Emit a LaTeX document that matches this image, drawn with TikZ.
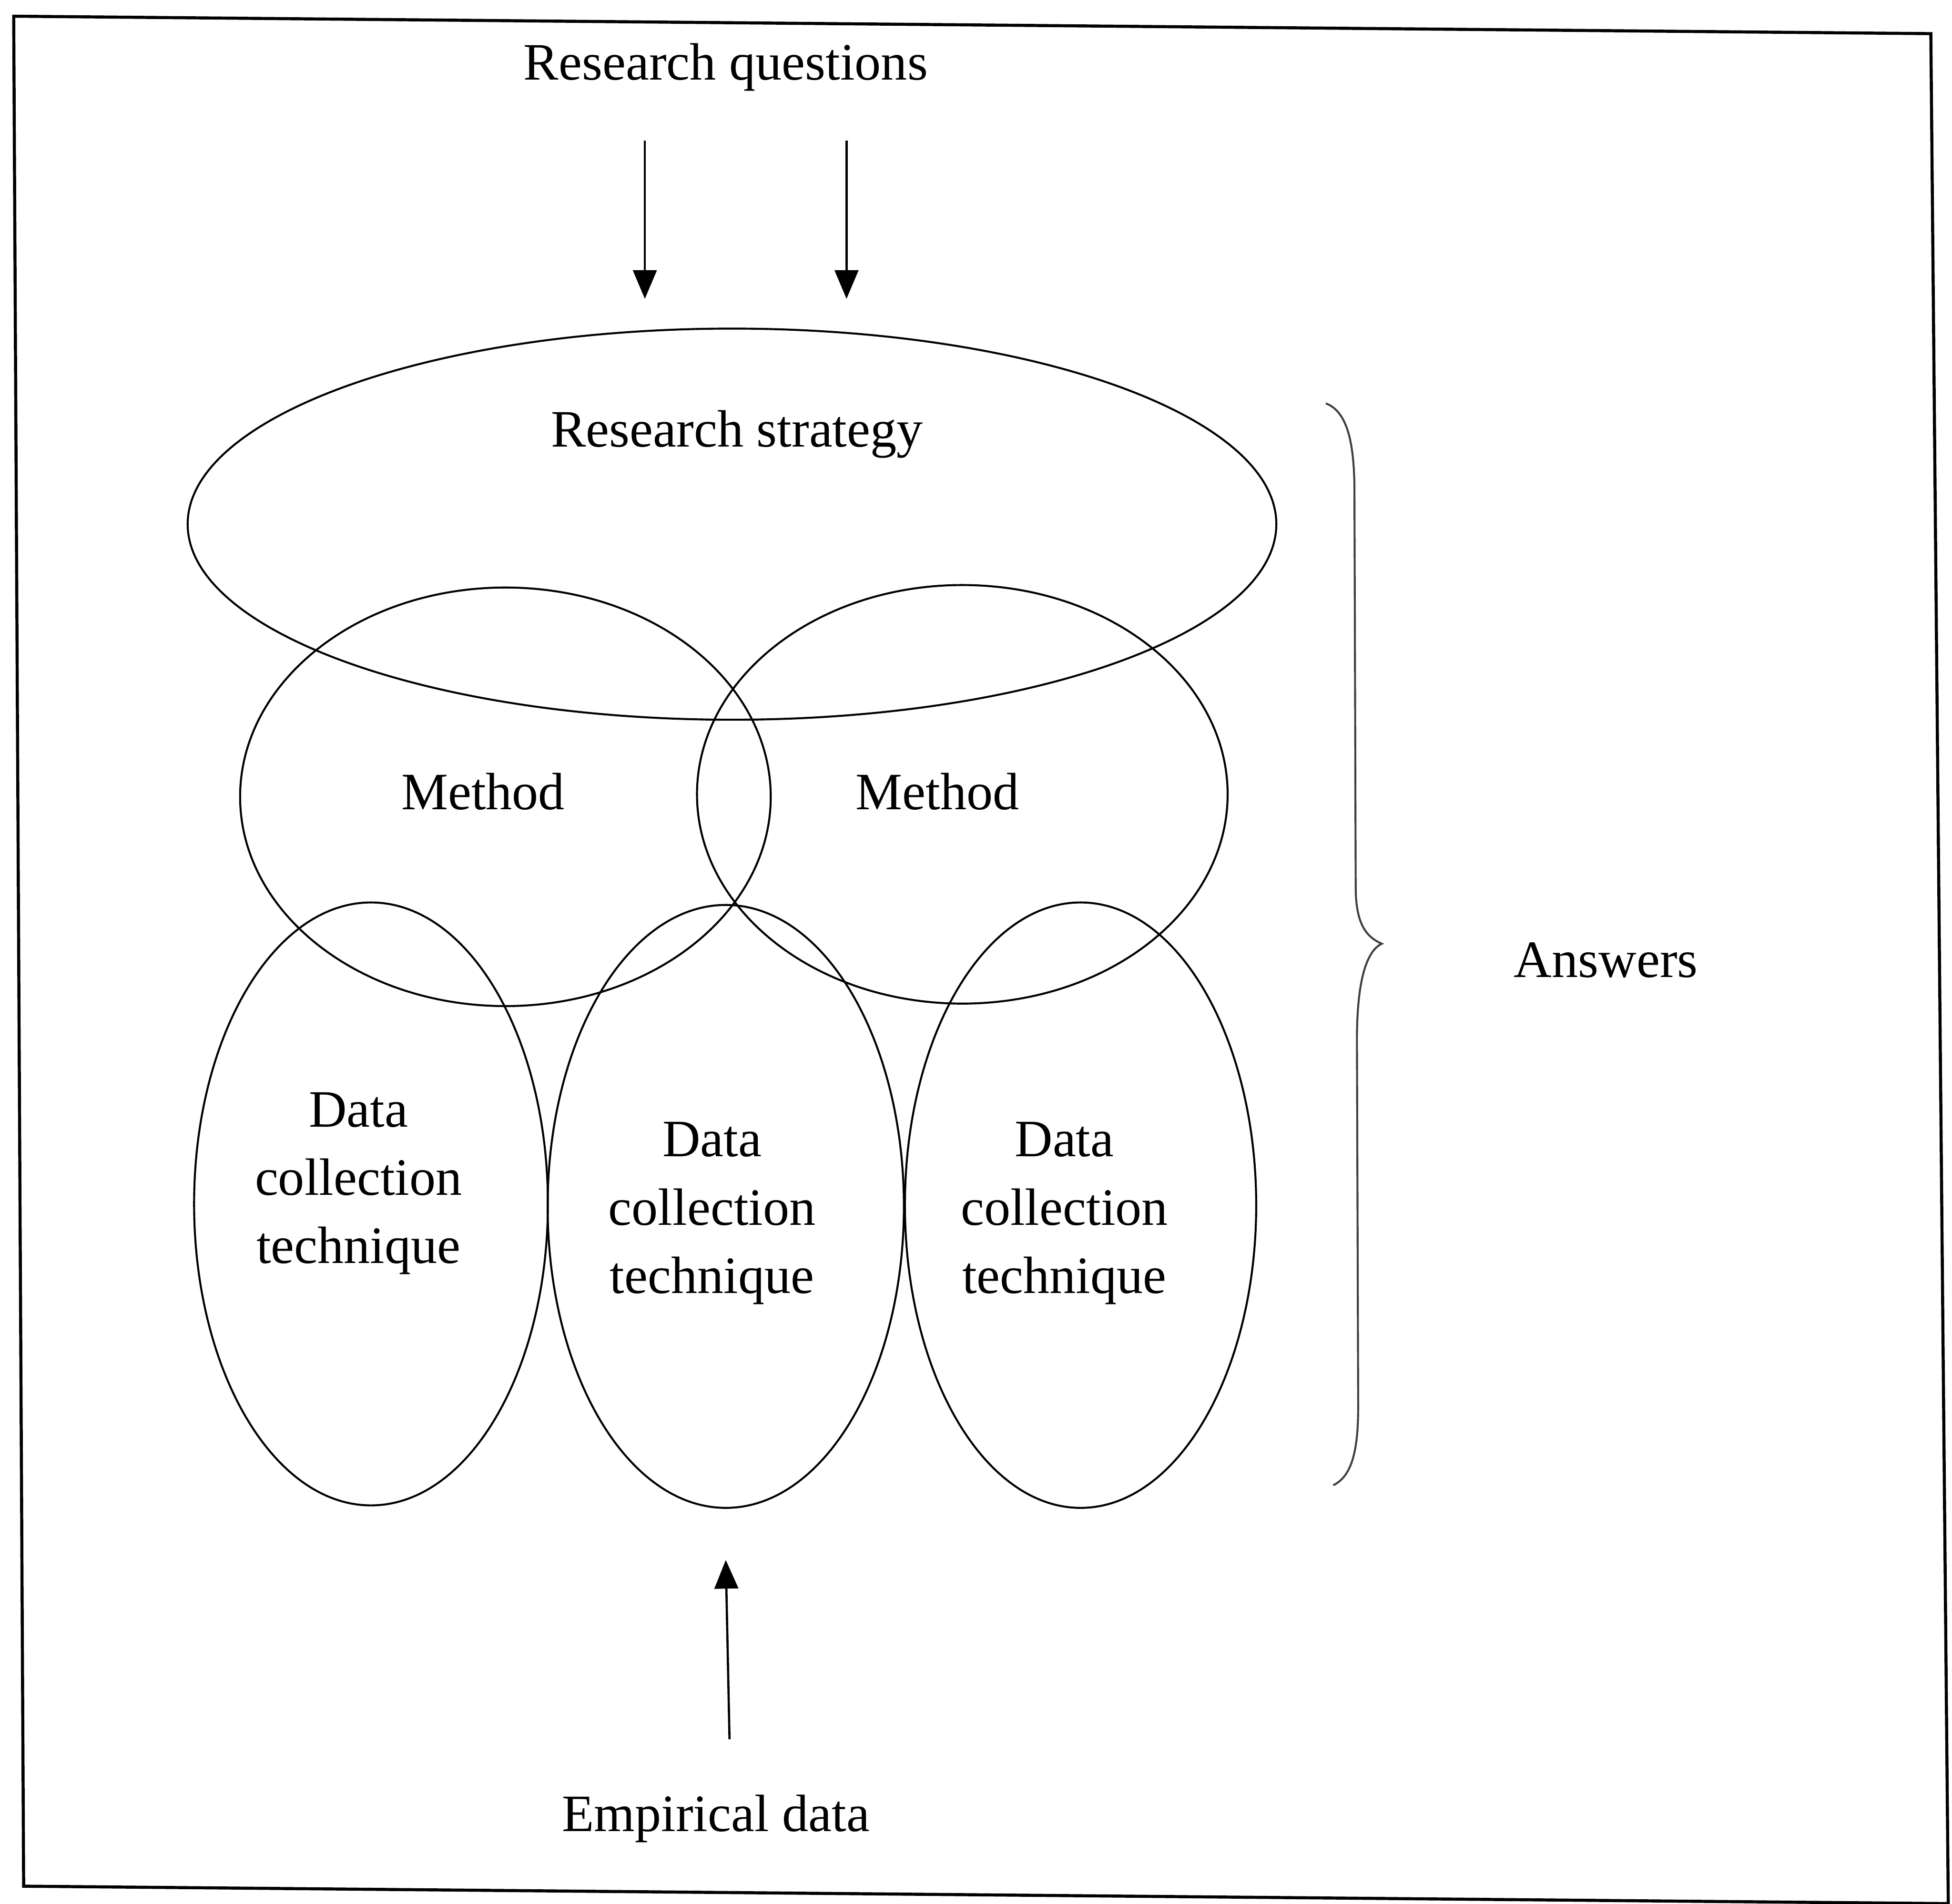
\documentclass[tikz,border=0pt]{standalone}
\usepackage{fontspec}
\setmainfont{Liberation Serif}
\usetikzlibrary{shapes.geometric,arrows.meta}
\begin{document}
\begin{tikzpicture}[x=0.01cm,y=-0.01cm,
  txt/.style={font=\fontsize{12}{15.6}\selectfont, inner sep=0pt, anchor=base},
  oval/.style={draw, ellipse, line width=0.45pt, inner sep=0pt},
  arr/.style={line width=0.5pt, -{Triangle[length=2.3mm,width=1.9mm]}},
  outline/.style={line width=0.7pt, line join=miter},
  bracepath/.style={line width=0.45pt, draw=black!75}
]
\useasboundingbox (0,0) rectangle (1568,1529);
\fill[white] (0,0) rectangle (1568,1529);

% outer frame (page is slightly skewed)
\draw[outline] (11,13) -- (1551,27) -- (1565,1529) -- (19,1515) -- cycle;

% overlapping ovals
\node[oval, minimum width=8.74cm, minimum height=3.14cm] (strat) at (588,421) {};
\node[oval, minimum width=4.26cm, minimum height=3.36cm] (meth1) at (406,640) {};
\node[oval, minimum width=4.26cm, minimum height=3.36cm] (meth2) at (773,638) {};
\node[oval, minimum width=2.84cm, minimum height=4.84cm] (dc1) at (298,967) {};
\node[oval, minimum width=2.86cm, minimum height=4.84cm] (dc2) at (583,969) {};
\node[oval, minimum width=2.82cm, minimum height=4.86cm] (dc3) at (868,968) {};

% labels
\node[txt] (rq) at (583,64) {Research questions};
\node[txt] (rs) at (592,359) {Research strategy};
\node[txt] (m1) at (388,650) {Method};
\node[txt] (m2) at (753,650) {Method};
\node[txt] (t1) at (288,905) {\begin{tabular}[t]{@{}c@{}}Data\\collection\\technique\end{tabular}};
\node[txt] (t2) at (572,929) {\begin{tabular}[t]{@{}c@{}}Data\\collection\\technique\end{tabular}};
\node[txt] (t3) at (855,929) {\begin{tabular}[t]{@{}c@{}}Data\\collection\\technique\end{tabular}};
\node[txt] (ans) at (1290,785) {Answers};
\node[txt] (emp) at (575,1471) {Empirical data};

% arrows
\coordinate (q1a) at (518,113);
\coordinate (q1b) at (518,240);
\coordinate (q2a) at (680,113);
\coordinate (q2b) at (680,240);
\coordinate (ea) at (586,1397);
\coordinate (eb) at (583,1253);
\draw[arr] (q1a) -- (q1b);
\draw[arr] (q2a) -- (q2b);
\draw[arr] (ea) -- (eb);

% curly brace
\draw[bracepath] (1065,324) .. controls (1081,330) and (1088,352) .. (1088,395)
  -- (1089,712) .. controls (1089,740) and (1096,752) .. (1110,758)
  .. controls (1097,764) and (1090,790) .. (1090,835)
  -- (1091,1130) .. controls (1091,1168) and (1085,1186) .. (1071,1193);
\end{tikzpicture}
\end{document}
